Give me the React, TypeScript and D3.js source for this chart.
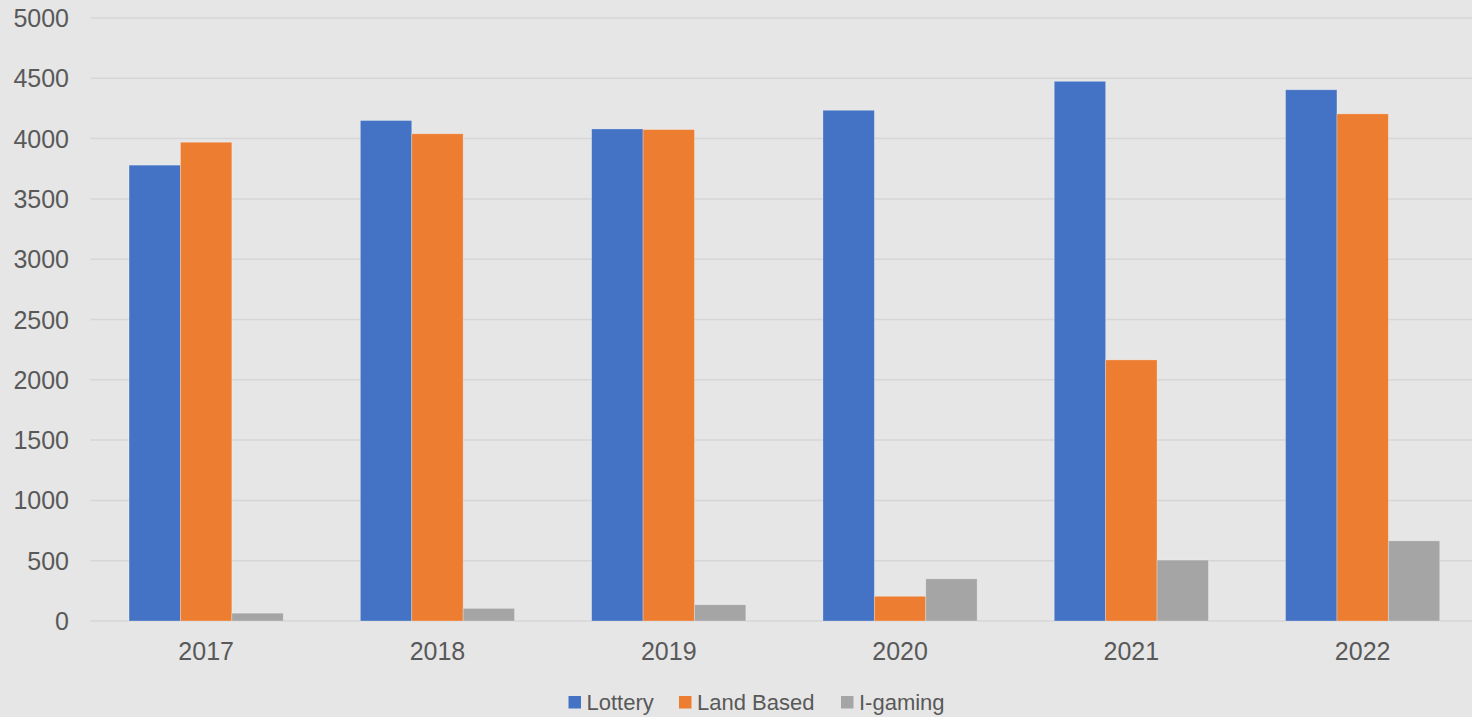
import React from "react";
import * as d3 from "d3";

const years = ["2017", "2018", "2019", "2020", "2021", "2022"];
const seriesNames = ["Lottery", "Land Based", "I-gaming"];
const lottery = [3780, 4150, 4080, 4235, 4475, 4405];
const landBased = [3970, 4040, 4075, 205, 2165, 4205];
const iGaming = [65, 105, 135, 350, 505, 665];
const yTicks = [0, 500, 1000, 1500, 2000, 2500, 3000, 3500, 4000, 4500, 5000];
const colors = ["#4472C4", "#ED7D31", "#A5A5A5"];

const W = 1472;
const H = 717;
const FONT = "'Liberation Sans', Arial, sans-serif";

export default function App() {
  const values = [lottery, landBased, iGaming];
  const x0 = d3.scaleBand<string>().domain(years).range([90.5, 1478.3]).padding(0);
  const x1 = d3
    .scaleBand<string>()
    .domain(seriesNames)
    .range([0, x0.bandwidth()])
    .paddingInner(0)
    .paddingOuter(0.75);
  const y = d3.scaleLinear().domain([0, 5000]).range([621, 18]);

  const legendItems = [
    { name: seriesNames[0], sx: 568.5, tx: 586.5 },
    { name: seriesNames[1], sx: 679, tx: 697 },
    { name: seriesNames[2], sx: 841, tx: 859 },
  ];

  return (
    <svg
      width={W}
      height={H}
      style={{ position: "absolute", left: 0, top: 0, display: "block" }}
      fontFamily={FONT}
    >
      <rect x={0} y={0} width={W} height={H} fill="#e6e6e6" />
      {yTicks.map((t) => (
        <g key={t}>
          <line x1={90.5} x2={W} y1={y(t)} y2={y(t)} stroke="#d6d6d6" strokeWidth={1.5} />
          <text
            x={69}
            y={y(t)}
            textAnchor="end"
            dominantBaseline="central"
            fontSize={25}
            fill="#595959"
          >
            {t}
          </text>
        </g>
      ))}
      {years.map((yr, i) => (
        <g key={yr} transform={`translate(${x0(yr)},0)`}>
          {seriesNames.map((s, j) => (
            <rect
              key={s}
              x={x1(s)}
              y={y(values[j][i])}
              width={x1.bandwidth()}
              height={y(0) - y(values[j][i])}
              fill={colors[j]}
              stroke="#ffffff"
              strokeOpacity={0.35}
              strokeWidth={0.8}
            />
          ))}
          <text
            x={x0.bandwidth() / 2}
            y={660}
            textAnchor="middle"
            fontSize={25}
            fill="#595959"
          >
            {yr}
          </text>
        </g>
      ))}
      {legendItems.map((it, j) => (
        <g key={it.name}>
          <rect x={it.sx} y={696} width={12.5} height={12.5} fill={colors[j]} />
          <text x={it.tx} y={709.5} fontSize={22} fill="#595959">
            {it.name}
          </text>
        </g>
      ))}
    </svg>
  );
}
